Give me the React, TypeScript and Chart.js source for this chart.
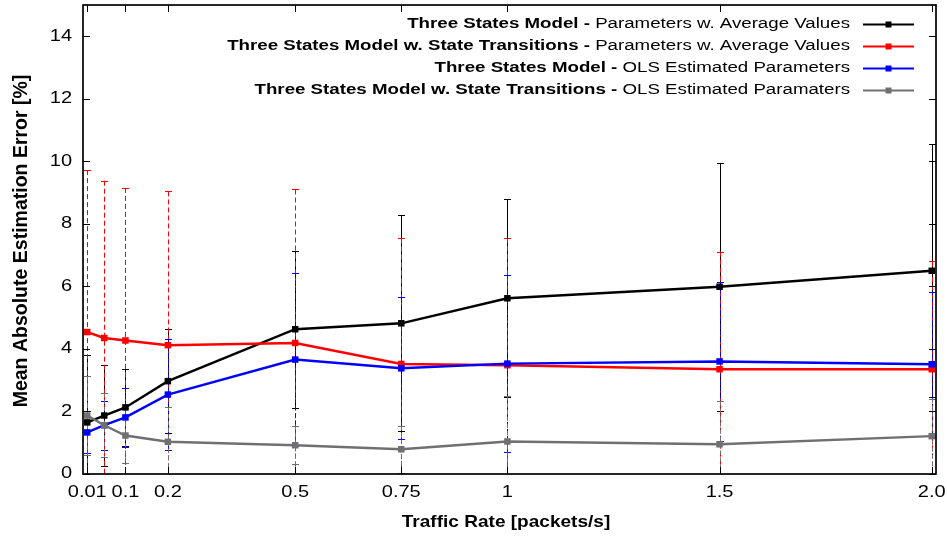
import React, { useEffect, useRef } from 'react';
import { Chart, registerables } from 'chart.js';

Chart.register(...registerables);

// ---- data ----
const rates = [0.01, 0.05, 0.1, 0.2, 0.5, 0.75, 1, 1.5, 2.0];
const xTickValues = [0.01, 0.1, 0.2, 0.5, 0.75, 1, 1.5, 2.0];
const xTickLabels = ['0.01', '0.1', '0.2', '0.5', '0.75', '1', '1.5', '2.0'];
const yTickValues = [0, 2, 4, 6, 8, 10, 12, 14];

const avgThree = [1.65, 1.87, 2.13, 2.97, 4.63, 4.82, 5.62, 5.99, 6.5];
const avgThreeErr = [2.14, 1.61, 1.23, 1.66, 2.51, 3.45, 3.16, 3.96, 4.04];
const avgTrans = [4.54, 4.35, 4.27, 4.12, 4.19, 3.52, 3.48, 3.35, 3.35];
const avgTransErr = [5.18, 5.03, 4.88, 4.92, 4.91, 4.02, 4.07, 3.76, 3.45];
const olsThree = [1.33, 1.56, 1.81, 2.54, 3.66, 3.38, 3.53, 3.6, 3.51];
const olsThreeErr = [0.67, 0.79, 0.94, 1.78, 2.76, 2.27, 2.84, 2.53, 2.32];
const olsTrans = [1.87, 1.56, 1.23, 1.03, 0.92, 0.79, 1.04, 0.95, 1.21];
const olsTransErr = [1.26, 1.03, 0.87, 1.11, 0.6, 0.75, 1.46, 1.37, 1.2];

const legendBold = [
  'Three States Model - ',
  'Three States Model w. State Transitions - ',
  'Three States Model - ',
  'Three States Model w. State Transitions - ',
];
const legendNormal = [
  'Parameters w. Average Values',
  'Parameters w. Average Values',
  'OLS Estimated Parameters',
  'OLS Estimated Paramaters',
];
const seriesColors = ['#000000', '#ff0000', '#0000ff', '#707070'];
const errDash = [[], [5, 3], [4, 3], [4, 3]];

const xTitle = 'Traffic Rate [packets/s]';
const yTitle = 'Mean Absolute Estimation Error [%]';

const FONT = '"Liberation Sans", Arial, Helvetica, sans-serif';
const STRETCH = 1.25;

function drawStretched(ctx, text, x, y, font, sx, align) {
  ctx.save();
  ctx.font = font;
  ctx.textBaseline = 'middle';
  ctx.textAlign = 'left';
  const w = ctx.measureText(text).width * sx;
  const left = align === 'right' ? x - w : align === 'center' ? x - w / 2 : x;
  ctx.translate(left, y);
  ctx.scale(sx, 1);
  ctx.fillText(text, 0, 0);
  ctx.restore();
  return w;
}

const errorBarPlugin = {
  id: 'errorBars',
  beforeDatasetsDraw(chart) {
    const { ctx, chartArea } = chart;
    const xs = chart.scales.x;
    const ys = chart.scales.y;
    ctx.save();
    ctx.beginPath();
    ctx.rect(chartArea.left, chartArea.top, chartArea.right - chartArea.left, chartArea.bottom - chartArea.top);
    ctx.clip();
    chart.data.datasets.forEach((ds, i) => {
      const errs = ds.errors;
      ctx.strokeStyle = ds.borderColor;
      ctx.lineWidth = 1;
      ctx.setLineDash(ds.errDash || []);
      ds.data.forEach((p, j) => {
        const x = Math.round(xs.getPixelForValue(p.x)) + 0.5;
        const yHi = ys.getPixelForValue(p.y + errs[j]);
        const yLo = ys.getPixelForValue(p.y - errs[j]);
        ctx.beginPath();
        ctx.moveTo(x, yHi);
        ctx.lineTo(x, yLo);
        ctx.stroke();
        ctx.save();
        ctx.setLineDash([]);
        ctx.beginPath();
        ctx.moveTo(x - 3.5, Math.round(yHi) + 0.5);
        ctx.lineTo(x + 3.5, Math.round(yHi) + 0.5);
        ctx.moveTo(x - 3.5, Math.round(yLo) + 0.5);
        ctx.lineTo(x + 3.5, Math.round(yLo) + 0.5);
        ctx.stroke();
        ctx.restore();
      });
    });
    ctx.restore();
  },
};

const framePlugin = {
  id: 'frame',
  afterDraw(chart) {
    const { ctx, chartArea } = chart;
    const xs = chart.scales.x;
    const ys = chart.scales.y;
    const { left, right, top, bottom } = chartArea;
    ctx.save();
    ctx.strokeStyle = '#000';
    ctx.lineWidth = 1.7;
    ctx.setLineDash([]);
    ctx.strokeRect(left, top, right - left, bottom - top);
    ctx.lineWidth = 1;
    const tl = 7;
    ctx.beginPath();
    yTickValues.forEach((v) => {
      const y = Math.round(ys.getPixelForValue(v)) + 0.5;
      ctx.moveTo(left, y);
      ctx.lineTo(left + tl, y);
      ctx.moveTo(right, y);
      ctx.lineTo(right - tl, y);
    });
    xTickValues.forEach((v) => {
      const x = Math.round(xs.getPixelForValue(v)) + 0.5;
      ctx.moveTo(x, bottom);
      ctx.lineTo(x, bottom - tl);
      ctx.moveTo(x, top);
      ctx.lineTo(x, top + tl);
    });
    ctx.stroke();

    ctx.fillStyle = '#000';
    // tick labels
    yTickValues.forEach((v) => {
      drawStretched(ctx, String(v), left - 11, ys.getPixelForValue(v), `16px ${FONT}`, STRETCH, 'right');
    });
    xTickValues.forEach((v, i) => {
      drawStretched(ctx, xTickLabels[i], xs.getPixelForValue(v), bottom + 19, `16px ${FONT}`, STRETCH, 'center');
    });
    // axis titles
    drawStretched(ctx, xTitle, 506, bottom + 48, `bold 17px ${FONT}`, 1.12, 'center');
    ctx.save();
    ctx.translate(22, 241);
    ctx.rotate(-Math.PI / 2);
    ctx.font = `bold 19.5px ${FONT}`;
    ctx.textAlign = 'center';
    ctx.textBaseline = 'middle';
    ctx.fillText(yTitle, 0, 0);
    ctx.restore();

    // legend
    const textRight = 850;
    legendNormal.forEach((t, i) => {
      const y = 23.7 + i * 22.2;
      ctx.fillStyle = '#000';
      const w = drawStretched(ctx, t, textRight, y, `14px ${FONT}`, 1.335, 'right');
      drawStretched(ctx, legendBold[i], textRight - w, y, `bold 14px ${FONT}`, 1.335, 'right');
      ctx.strokeStyle = seriesColors[i];
      ctx.lineWidth = 2.2;
      ctx.beginPath();
      ctx.moveTo(863, Math.round(y) + 0.5);
      ctx.lineTo(914, Math.round(y) + 0.5);
      ctx.stroke();
      ctx.fillStyle = seriesColors[i];
      ctx.fillRect(885.5, Math.round(y) - 2.5, 6, 6);
    });
    ctx.restore();
  },
};

export default function App() {
  const ref = useRef(null);
  useEffect(() => {
    const values = [avgThree, avgTrans, olsThree, olsTrans];
    const errors = [avgThreeErr, avgTransErr, olsThreeErr, olsTransErr];
    const datasets = values.map((vals, i) => ({
      label: legendBold[i] + legendNormal[i],
      data: rates.map((r, j) => ({ x: r, y: vals[j] })),
      errors: errors[i],
      errDash: errDash[i],
      borderColor: seriesColors[i],
      backgroundColor: seriesColors[i],
      borderWidth: 2.4,
      pointStyle: 'rect',
      pointRadius: 4.6,
      pointBorderWidth: 0,
      tension: 0,
      order: 3 - i,
    }));
    const chart = new Chart(ref.current, {
      type: 'line',
      data: { datasets },
      options: {
        animation: false,
        responsive: false,
        layout: { padding: { left: 0, right: 11, top: 5, bottom: 0 } },
        plugins: { legend: { display: false }, tooltip: { enabled: false } },
        scales: {
          x: {
            type: 'linear',
            min: 0,
            max: 2.01,
            grid: { display: false },
            border: { display: false },
            ticks: { display: false },
            afterBuildTicks: (s) => {
              s.ticks = xTickValues.map((v) => ({ value: v }));
            },
            afterFit: (s) => {
              s.height = 62;
            },
          },
          y: {
            type: 'linear',
            min: 0,
            max: 15,
            grid: { display: false },
            border: { display: false },
            ticks: { display: false },
            afterBuildTicks: (s) => {
              s.ticks = yTickValues.map((v) => ({ value: v }));
            },
            afterFit: (s) => {
              s.width = 83;
            },
          },
        },
      },
      plugins: [errorBarPlugin, framePlugin],
    });
    return () => chart.destroy();
  }, []);
  return (
    <div style={{ position: 'absolute', left: 0, top: 0, width: 947, height: 536, background: '#fff' }}>
      <canvas ref={ref} width={947} height={536} style={{ display: 'block' }} />
    </div>
  );
}
